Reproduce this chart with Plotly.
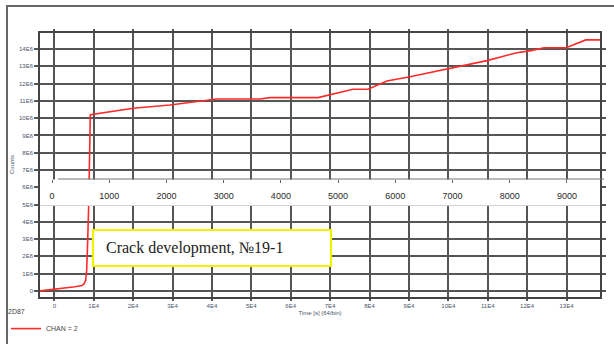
import plotly.graph_objects as go

# ---- data ----
time_s = [-3600, 180, 3220, 5250, 7030, 7540, 7970, 8220, 8480, 8730, 9140,
          20050, 29360, 38680, 41290, 52200, 54740, 66920, 69970, 75800, 79610,
          84430, 90270, 98900, 102200, 109800, 117400, 121000, 124300, 129900,
          134900, 138500]
counts = [0, 0.09e6, 0.2e6, 0.24e6, 0.31e6, 0.4e6, 0.63e6, 1.21e6, 2.95e6, 4.97e6, 10.2e6,
          10.57e6, 10.76e6, 11.05e6, 11.11e6, 11.11e6, 11.19e6, 11.19e6, 11.34e6, 11.67e6, 11.67e6,
          12.15e6, 12.4e6, 12.83e6, 12.95e6, 13.33e6, 13.79e6, 13.91e6, 14.08e6, 14.08e6,
          14.53e6, 14.53e6]

x_tickvals = [i * 10000 for i in range(14)]
x_ticktext = ["0"] + [f"{i}E4" for i in range(1, 14)]
y_tickvals = [i * 1e6 for i in range(15)]
y_ticktext = ["0"] + [f"{i}E6" for i in range(1, 15)]
x2_tickvals = [i * 1000 for i in range(10)]
x2_ticktext = [str(v) for v in x2_tickvals]

series_name = "CHAN = 2"
legend_title = "2D87"
x_title = "Time [s] (64/bin)"
y_title = "Counts"
box_text = "Crack development, №19-1"

# ---- layout constants ----
W, H = 614, 344
ML, MR, MT, MB = 40, 14, 33, 47
PW, PH = W - ML - MR, H - MT - MB


def px_x(p):
    return (p - ML) / PW


def px_y(p):
    return (H - MB - p) / PH


GRID = "#555555"
LAB = "#4a5568"
band_lo, band_hi = 4.93e6, 6.45e6  # white strip hiding the plot behind the inset axis

fig = go.Figure()
fig.add_trace(go.Scatter(x=time_s, y=counts, mode="lines", name=series_name,
                         line=dict(color="#ff2a2a", width=1.6), xaxis="x", yaxis="y"))
# white strip carrying the second time scale
fig.add_trace(go.Scatter(x=[-1e4, 2e4, 2e4, -1e4, -1e4],
                         y=[band_lo, band_lo, band_hi, band_hi, band_lo],
                         mode="lines", fill="toself", fillcolor="white",
                         line=dict(width=0, color="white"), hoverinfo="skip",
                         showlegend=False, xaxis="x2", yaxis="y"))

fig.update_layout(
    width=W, height=H, autosize=False,
    margin=dict(l=ML, r=MR, t=MT, b=MB, autoexpand=False),
    paper_bgcolor="white", plot_bgcolor="white",
    font=dict(family="Liberation Sans, Arial, sans-serif", color=LAB),
    xaxis=dict(range=[-3630, 138500], tickvals=x_tickvals, ticktext=x_ticktext,
               showgrid=True, gridcolor=GRID, gridwidth=1.5, zeroline=False,
               showline=True, linecolor="#444444", linewidth=1.5, mirror="ticks",
               ticks="outside", ticklen=2, tickcolor=GRID, tickwidth=1.5,
               tickfont=dict(size=6, color=LAB),
               title=dict(text=x_title, font=dict(size=6, color=LAB), standoff=3)),
    yaxis=dict(range=[-0.353e6, 14.93e6], tickvals=y_tickvals, ticktext=y_ticktext,
               showgrid=True, gridcolor=GRID, gridwidth=1.5, zeroline=False,
               showline=True, linecolor="#444444", linewidth=1.5, mirror="ticks",
               ticks="outside", ticklen=4, tickcolor=GRID, tickwidth=1.5,
               tickfont=dict(size=6, color=LAB)),
    xaxis2=dict(overlaying="x", anchor="free", position=px_y(179), side="bottom",
                range=[-210, 9577], tickvals=x2_tickvals, ticktext=x2_ticktext,
                showgrid=False, zeroline=False, showline=False,
                ticks="outside", ticklen=3, tickcolor="#666666", tickwidth=1,
                ticklabelstandoff=5,
                tickfont=dict(size=9, color="#2a2a2a", family="Liberation Sans, Arial")),
    showlegend=True,
    legend=dict(xref="container", yref="container", x=6 / W, y=1 - 305 / H,
                xanchor="left", yanchor="top", bgcolor="rgba(0,0,0,0)",
                font=dict(size=7, color="#444444"),
                title=dict(text=legend_title, font=dict(size=7, color="#444444")),
                itemwidth=30, tracegroupgap=0),
)

# y-axis title
fig.add_annotation(xref="paper", yref="paper", x=px_x(12), y=0.5,
                   xanchor="center", yanchor="middle", showarrow=False,
                   text=y_title, textangle=-90, font=dict(size=6, color=LAB))
# outer frame (left and top edges visible, rest cropped)
fig.add_shape(type="rect", xref="paper", yref="paper",
              x0=px_x(7), x1=px_x(640), y0=px_y(380), y1=px_y(6),
              line=dict(color="#666666", width=2), fillcolor="rgba(0,0,0,0)", layer="above")
# axis line of the inset time scale
fig.add_shape(type="line", xref="paper", yref="paper",
              x0=px_x(58), x1=px_x(604), y0=px_y(179), y1=px_y(179),
              line=dict(color="#777777", width=1.2), layer="above")
# yellow label box
fig.add_shape(type="rect", xref="paper", yref="paper",
              x0=px_x(93), x1=px_x(331), y0=px_y(266), y1=px_y(230),
              line=dict(color="#f2f200", width=2.2), fillcolor="white", layer="above")
fig.add_annotation(xref="paper", yref="paper", x=px_x(104), y=px_y(248),
                   xanchor="left", yanchor="middle", showarrow=False,
                   text=box_text,
                   font=dict(family="Liberation Serif, Times New Roman, serif", size=16,
                             color="#222222"))

fig.write_html("out.html")
